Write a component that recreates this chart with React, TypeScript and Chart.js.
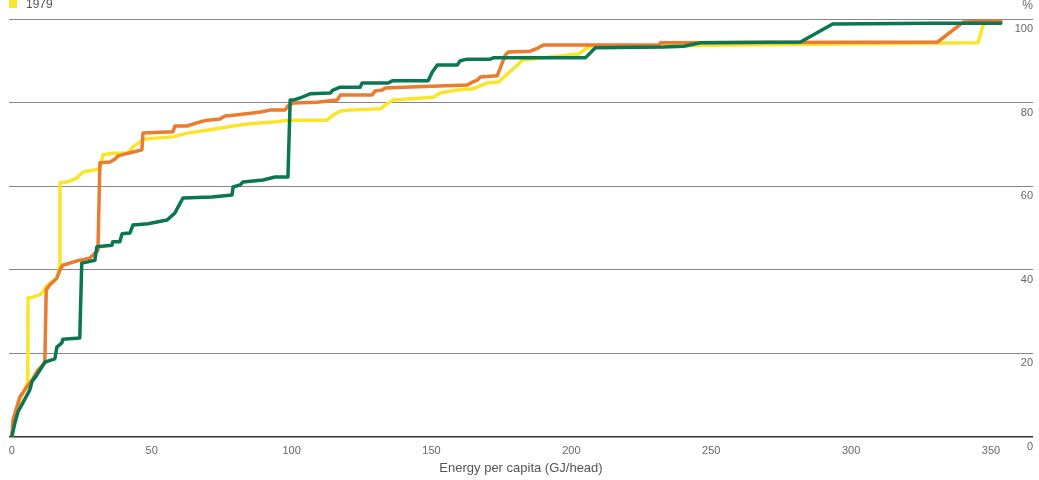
import React, { useEffect, useRef } from "react";
import { Chart, registerables } from "chart.js";

Chart.register(...registerables);

const xTicks: number[] = [0, 50, 100, 150, 200, 250, 300, 350];
const yTicks: number[] = [0, 20, 40, 60, 80, 100];
const legendLabel = "1979";
const xTitle = "Energy per capita (GJ/head)";
const yUnit = "%";

// [energy per capita, cumulative %]
const series1979: [number, number][] = [
  [0, 0], [1.1, 4.8], [2.9, 8.9], [4.7, 11.7], [5.7, 12.9], [5.8, 33.3], [7.2, 33.4], [10.0, 34.0],
  [11.1, 34.7], [11.8, 35.6], [13.6, 36.8], [16.1, 38.0], [17.0, 40.7], [17.2, 60.8], [19.7, 61.0],
  [23.3, 62.0], [25.4, 63.4], [31.5, 64.1], [32.6, 67.5], [36.1, 67.9], [41.5, 67.9], [43.3, 69.4],
  [45.8, 70.6], [47.6, 71.3], [57.6, 71.8], [62.6, 72.7], [69.8, 73.4], [79.1, 74.4], [84.1, 74.9],
  [94.8, 75.4], [98.4, 75.8], [112.7, 75.8], [114.8, 77.0], [117.4, 78.0], [120.9, 78.2], [131.7, 78.5],
  [134.5, 79.9], [136.3, 80.6], [150.6, 81.3], [153.1, 82.3], [159.2, 83.0], [164.9, 83.3], [169.9, 84.7],
  [173.9, 84.9], [180.7, 89.0], [182.5, 90.2], [202.5, 91.6], [206.1, 93.3], [209.3, 93.3], [256.9, 93.8],
  [345.3, 94.3], [347.4, 99.0], [353.5, 99.3],
];

const seriesOrange: [number, number][] = [
  [0, 0], [0.4, 4.0], [1.8, 7.2], [2.9, 9.6], [3.9, 10.5], [5.4, 12.0], [7.2, 13.6], [9.3, 16.0],
  [11.8, 17.7], [12.3, 35.2], [13.6, 36.4], [16.1, 38.0], [17.2, 39.9], [18.2, 41.1], [24.3, 42.3],
  [27.9, 42.8], [30.8, 44.7], [31.5, 65.6], [35.1, 65.8], [36.9, 66.5], [37.9, 67.2], [41.5, 67.9],
  [46.5, 68.7], [46.9, 72.7], [57.6, 73.0], [58.3, 74.4], [62.6, 74.4], [67.3, 75.4], [70.1, 75.8],
  [74.4, 76.1], [76.2, 76.8], [79.1, 77.0], [86.2, 77.5], [89.4, 77.8], [92.3, 78.2], [97.7, 78.2],
  [98.7, 79.2], [100.5, 79.9], [109.1, 80.1], [116.3, 80.6], [117.4, 81.8], [128.8, 81.8], [129.9, 82.8],
  [132.4, 83.0], [133.5, 83.5], [139.9, 83.7], [162.8, 84.2], [164.6, 84.9], [166.4, 85.4], [167.4, 86.1],
  [173.5, 86.4], [176.4, 91.4], [177.5, 92.1], [185.3, 92.3], [188.2, 93.1], [190.0, 93.8], [231.5, 93.8],
  [231.8, 94.3], [330.9, 94.5], [340.2, 99.3], [353.5, 99.5],
];

const seriesGreen: [number, number][] = [
  [0, 0], [1.1, 3.3], [2.2, 6.0], [3.9, 8.1], [6.4, 11.2], [7.2, 13.2], [8.9, 14.8], [10.7, 16.7],
  [11.8, 17.9], [15.4, 18.7], [16.1, 21.5], [17.9, 22.5], [18.2, 23.4], [24.3, 23.7], [25.0, 41.6],
  [27.2, 41.9], [29.7, 42.3], [30.4, 45.5], [35.8, 45.9], [36.1, 46.7], [38.6, 46.7], [39.4, 48.6],
  [42.2, 48.8], [43.3, 50.7], [48.7, 51.0], [55.5, 51.9], [58.3, 53.6], [59.4, 55.0], [60.8, 56.7],
  [61.2, 57.2], [71.6, 57.4], [78.7, 57.9], [79.1, 59.8], [81.6, 60.3], [82.6, 61.0], [89.8, 61.5],
  [94.1, 62.2], [98.7, 62.2], [99.5, 80.6], [100.5, 80.6], [103.0, 81.1], [106.6, 82.1], [113.8, 82.3],
  [114.8, 83.0], [117.4, 83.7], [124.5, 83.7], [125.2, 84.7], [134.5, 84.7], [136.0, 85.2], [148.8, 85.2],
  [150.3, 87.3], [152.1, 89.0], [159.2, 89.0], [160.3, 90.0], [162.8, 90.4], [171.0, 90.4], [172.1, 90.7],
  [205.0, 90.7], [208.6, 93.1], [232.9, 93.3], [240.1, 93.5], [246.2, 94.3], [281.9, 94.5], [293.4, 98.8],
  [328.4, 99.0], [353.5, 99.0],
];

const YELLOW = "#F9E52A";
const ORANGE = "#EA7B2F";
const GREEN = "#0B7654";
const FONT = "'Liberation Sans', Arial, Helvetica, sans-serif";

export default function App() {
  const ref = useRef<HTMLCanvasElement>(null);

  useEffect(() => {
    const canvas = ref.current;
    if (!canvas) return;
    const toPts = (a: [number, number][]) => a.map(([x, y]) => ({ x, y }));
    Chart.defaults.font.family = FONT;
    const chart = new Chart(canvas, {
      type: "line",
      data: {
        datasets: [
          { label: legendLabel, data: toPts(series1979), borderColor: YELLOW, backgroundColor: YELLOW, order: 2 },
          { label: "orange", data: toPts(seriesOrange), borderColor: ORANGE, backgroundColor: ORANGE, order: 1 },
          { label: "green", data: toPts(seriesGreen), borderColor: GREEN, backgroundColor: GREEN, order: 0 },
        ],
      },
      options: {
        animation: false,
        responsive: false,
        maintainAspectRatio: false,
        elements: {
          point: { radius: 0, hoverRadius: 0 },
          line: { borderWidth: 3.5, tension: 0, borderJoinStyle: "round", borderCapStyle: "round" },
        },
        layout: { padding: { left: 9, right: 6, top: 19, bottom: 0 } },
        plugins: { legend: { display: false }, tooltip: { enabled: false } },
        scales: {
          x: {
            type: "linear",
            min: -1,
            max: 365,
            afterBuildTicks: (s: any) => {
              s.ticks = xTicks.map((v) => ({ value: v }));
            },
            afterFit: (s: any) => {
              s.height = 43;
            },
            grid: { display: false, drawTicks: false },
            border: { display: false },
            ticks: { padding: 7, color: "#666", font: { size: 11 }, maxRotation: 0, autoSkip: false },
            title: { display: true, text: xTitle, color: "#555", font: { size: 13 }, padding: { top: 3, bottom: 4 } },
          },
          y: {
            type: "linear",
            position: "right",
            min: 0,
            max: 100,
            afterBuildTicks: (s: any) => {
              s.ticks = yTicks.map((v) => ({ value: v }));
            },
            afterFit: (s: any) => {
              s.width = 0;
            },
            grid: {
              drawTicks: false,
              color: (c: any) => (c.tick && c.tick.value === 0 ? "#333" : "#858585"),
              lineWidth: (c: any) => (c.tick && c.tick.value === 0 ? 1.5 : 1),
            },
            border: { display: false },
            ticks: { mirror: true, padding: 0, labelOffset: 10, color: "#666", font: { size: 11 } },
          },
        },
      },
    } as any);
    return () => chart.destroy();
  }, []);

  return (
    <div style={{ position: "fixed", left: 0, top: 0, width: 1039, height: 480, background: "#fff", overflow: "hidden" }}>
      <canvas ref={ref} width={1039} height={480} style={{ display: "block", width: 1039, height: 480 }} />
      <div style={{ position: "absolute", left: 9, top: 0, width: 8, height: 8, background: YELLOW }} />
      <div style={{ position: "absolute", left: 26, top: -2, fontFamily: FONT, fontSize: 12, lineHeight: "12px", color: "#555" }}>
        {legendLabel}
      </div>
      <div style={{ position: "absolute", right: 6, top: -1, fontFamily: FONT, fontSize: 12, lineHeight: "12px", color: "#666" }}>
        {yUnit}
      </div>
    </div>
  );
}
